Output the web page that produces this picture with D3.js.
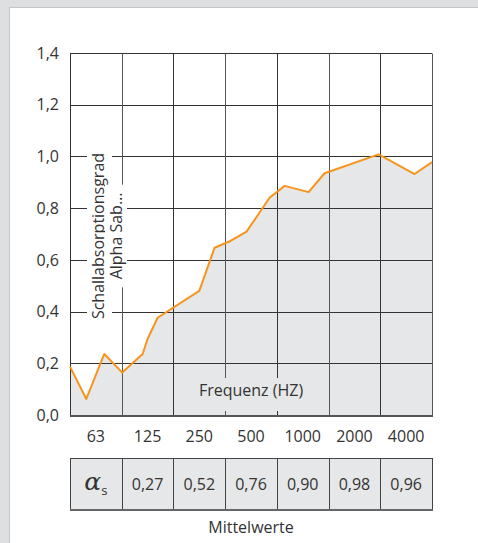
<!DOCTYPE html>
<html><head><meta charset="utf-8">
<script src="https://cdn.jsdelivr.net/npm/d3@7"></script>
<style>
html,body{margin:0;padding:0;background:#dedfe0;}
svg{display:block;font-family:"Open Sans",sans-serif;}
</style></head>
<body>
<svg id="c" width="478" height="543"></svg>
<script>
// ---- data ----
const bandLabels = ["63","125","250","500","1000","2000","4000"];
const bandCenters = [62.5,125,250,500,1000,2000,4000];
const curveFreq  = [44.2, 55, 70, 89, 117, 125, 143, 250, 307, 380, 471, 641, 785, 1082, 1341, 2766, 4481, 5657];
const curveAlpha = [0.187,0.062,0.236,0.164,0.236,0.294,0.376,0.48,0.647,0.673,0.709,0.84,0.886,0.862,0.935,1.008,0.932,0.978];
const meanValues = [0.27,0.52,0.76,0.90,0.98,0.96];
const yTicks = [0,0.2,0.4,0.6,0.8,1.0,1.2,1.4];
const yLabelLines = ["Schallabsorptionsgrad","Alpha Sab…"];
const xTitle = "Frequenz (HZ)";
const tableTitle = "Mittelwerte";

// ---- layout ----
const svg = d3.select("#c");
const L=70, R=432, T=53, B=415;
const x = d3.scaleLog().domain([bandCenters[0]/Math.SQRT2, bandCenters[6]*Math.SQRT2]).range([L,R]);
const y = d3.scaleLinear().domain([0,1.4]).range([B,T]);
const fmt = v => d3.format(".1f")(v).replace(".",",");
const fmt2 = v => d3.format(".2f")(v).replace(".",",");
const bounds = d3.range(8).map(i => bandCenters[0]*Math.pow(2,i-0.5));
const px = v => Math.round(v)+0.5;
const ink = "#333";
const fillGray = "#e6e7e8";

// panel
svg.append("rect").attr("x",9.5).attr("y",7.5).attr("width",480).attr("height",560)
  .attr("fill","#fff").attr("stroke","#c6c6c6");

const pts = curveFreq.map((f,i)=>[f,curveAlpha[i]]);
// area
svg.append("path").datum(pts)
  .attr("d", d3.area().x(d=>x(d[0])).y0(y(0)).y1(d=>y(d[1])))
  .attr("fill", fillGray);

// grid
const g = svg.append("g").attr("stroke", "#333").attr("stroke-width",1).attr("fill","none");
g.selectAll("line.h").data(yTicks).join("line")
  .attr("x1",L).attr("x2",R).attr("y1",d=>px(y(d))).attr("y2",d=>px(y(d)));
g.selectAll("line.v").data(bounds).join("line")
  .attr("x1",d=>px(x(d))).attr("x2",d=>px(x(d))).attr("y1",px(T)).attr("y2",px(B))
  .attr("stroke",(d,i)=> (i%2? "#555":"#333"));
svg.append("line").attr("x1",L).attr("x2",R+1).attr("y1",B+1).attr("y2",B+1)
  .attr("stroke","#555").attr("stroke-width",2);

// y tick labels
svg.append("g").selectAll("text").data(yTicks).join("text")
  .attr("x",59).attr("y",d=>y(d)).attr("dy","0.36em")
  .attr("text-anchor","end").attr("font-size",16).attr("fill",ink)
  .text(fmt);

// x tick labels
svg.append("g").selectAll("text").data(bandCenters).join("text")
  .attr("x",d=>x(d)).attr("y",442)
  .attr("text-anchor","middle").attr("font-size",16).attr("fill",ink)
  .text((d,i)=>bandLabels[i]);

// x title with knockout
const xt = svg.append("g");
const xtText = xt.append("text").attr("x",x(bandCenters[3])).attr("y",396)
  .attr("text-anchor","middle").attr("font-size",16).attr("fill",ink).text(xTitle);
const xb = xtText.node().getBBox();
xt.insert("rect","text").attr("x",xb.x-3).attr("y",xb.y-1).attr("width",xb.width+6).attr("height",xb.height+11)
  .attr("fill",fillGray);

// y title with knockout
const yt = svg.append("g");
yLabelLines.forEach((t,i)=>{
  const gg = yt.append("g").attr("transform",`translate(${104+i*18},236) rotate(-90)`);
  const tx = gg.append("text").attr("x",0).attr("y",0).attr("text-anchor","middle")
    .attr("font-size",16).attr("fill",ink).text(t);
  const b = tx.node().getBBox();
  const padX = i===0 ? 4 : 8;
  gg.insert("rect","text").attr("x",b.x-padX).attr("y",b.y).attr("width",b.width+2*padX).attr("height",b.height+ (i===0?3:0))
    .attr("fill","#fff");
});

// curve
svg.append("path").datum(pts)
  .attr("d", d3.line().x(d=>x(d[0])).y(d=>y(d[1])))
  .attr("fill","none").attr("stroke","#f7941d").attr("stroke-width",2).attr("stroke-linejoin","round");

// table
const tT=458.5, tB=509.5;
const tab = svg.append("g");
tab.append("rect").attr("x",px(L)).attr("y",tT).attr("width",px(R)-px(L)).attr("height",tB-tT)
  .attr("fill",fillGray).attr("stroke","#444");
tab.selectAll("line").data(bounds.slice(1,7)).join("line")
  .attr("x1",d=>px(x(d))).attr("x2",d=>px(x(d))).attr("y1",tT).attr("y2",tB)
  .attr("stroke","#444");
tab.append("line").attr("x1",L).attr("x2",R+1).attr("y1",tB+0.5).attr("y2",tB+0.5)
  .attr("stroke","#666").attr("stroke-width",2);
tab.selectAll("text.v").data(meanValues).join("text")
  .attr("x",(d,i)=>x(bandCenters[i+1])).attr("y",490)
  .attr("text-anchor","middle").attr("font-size",16).attr("fill",ink).text(fmt2);
const a = tab.append("text").attr("x",x(bandCenters[0])).attr("y",490).attr("text-anchor","middle").attr("fill",ink);
a.append("tspan").attr("font-family","DejaVu Serif, serif").attr("font-style","italic").attr("font-size",25).text("α");
a.append("tspan").attr("font-size",13).attr("dy",5).text("s");

svg.append("text").attr("x",x(bandCenters[3])).attr("y",533).attr("text-anchor","middle")
  .attr("font-size",16).attr("fill",ink).text(tableTitle);
</script>
</body></html>
